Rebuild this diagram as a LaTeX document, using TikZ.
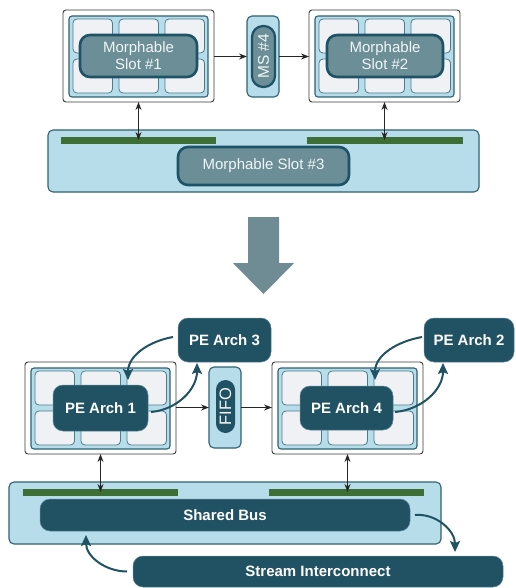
\documentclass[tikz,border=0pt]{standalone}
\usepackage{fontspec}
\setmainfont{Liberation Sans}
\usetikzlibrary{arrows.meta,calc}

\definecolor{panelblue}{HTML}{B8DDEA}
\definecolor{panelline}{HTML}{2E6272}
\definecolor{cellfill}{HTML}{EFF1F4}
\definecolor{cellline}{HTML}{4A7C8C}
\definecolor{framegray}{HTML}{3A3A3A}
\definecolor{slotgray}{HTML}{6B8E97}
\definecolor{slotline}{HTML}{1E5266}
\definecolor{petal}{HTML}{215264}
\definecolor{peedge}{HTML}{5E8794}
\definecolor{busgreen}{HTML}{3C6E35}
\definecolor{bigarrow}{HTML}{6F8C95}
\definecolor{lighttext}{HTML}{F2F6F7}

\tikzset{
  frame/.style={draw=framegray, fill=white, line width=0.9pt, rounded corners=3pt,
    inner sep=0pt, outer sep=0pt, minimum width=151pt, minimum height=92pt},
  panel/.style={draw=panelline, fill=panelblue, line width=1.1pt, rounded corners=3pt},
  cell/.style={draw=cellline, fill=cellfill, line width=0.8pt, rounded corners=4pt},
  bluebox/.style={draw=panelline, fill=panelblue, line width=1.1pt, rounded corners=5pt,
    inner sep=0pt, outer sep=0pt},
  slotnode/.style={draw=slotline, fill=slotgray, line width=2.6pt, rounded corners=10pt,
    text=lighttext, font=\fontsize{15}{17}\selectfont, align=center,
    inner sep=0pt, outer sep=0pt},
  pill/.style={draw=slotline, line width=2.2pt, rounded corners=10pt,
    inner sep=0pt, outer sep=0pt, text=lighttext},
  penode/.style={draw=peedge, fill=petal, line width=0.5pt, rounded corners=10pt,
    text=white, font=\bfseries\fontsize{15}{17}\selectfont,
    inner sep=0pt, outer sep=0pt},
  busbar/.style={fill=busgreen, draw=none, inner sep=0pt, outer sep=0pt, minimum height=7pt},
  arr/.style={-{Stealth[length=8pt,width=6pt]}, line width=1.2pt, draw=black!85},
  darr/.style={{Stealth[length=8pt,width=6pt]}-{Stealth[length=8pt,width=6pt]},
    line width=1.2pt, draw=black!85},
  carr/.style={-{Stealth[length=11pt,width=10pt,inset=2pt]}, line width=2pt, draw=petal},
}

% Framed slot: white frame, blue panel and a 3x2 grid of cells.
% #1 node name, #2/#3 top-left corner of the frame
\newcommand{\slotgrid}[3]{%
  \node[frame] (#1) at ({#2+75.5},{#3+46}) {};
  \draw[panel] ({#2+6},{#3+6}) rectangle ++(139,81);
  \foreach \ci in {0,1,2}
    \foreach \cj in {0,1}
      \draw[cell] ({#2+10+46*\ci},{#3+9+40*\cj}) rectangle ++(39.5,34);
}

\begin{document}
\begin{tikzpicture}[x=1pt,y=-1pt]
\useasboundingbox (0,0) rectangle (515,588);

% ---------------- upper configuration ----------------
\node[bluebox, minimum width=431pt, minimum height=62pt] (mempanel) at (263.5,161) {};
\node[busbar, minimum width=155pt] (barA) at (138.5,140.5) {};
\node[busbar, minimum width=156pt] (barB) at (385,140.5) {};
\node[slotnode, minimum width=171pt, minimum height=38pt] (slot3) at (263.5,166) {Morphable Slot \#3};

\slotgrid{frame1}{63}{10}
\slotgrid{frame2}{309}{10}
\node[slotnode, minimum width=117pt, minimum height=42pt] (slot1) at (138.5,56) {Morphable\\Slot \#1};
\node[slotnode, minimum width=116pt, minimum height=42pt] (slot2) at (385,56) {Morphable\\Slot \#2};

\node[bluebox, minimum width=32pt, minimum height=81pt] (msbox) at (263,56.5) {};
\node[pill, fill=slotgray, minimum width=23pt, minimum height=61pt, rounded corners=11pt] (ms4) at (263.5,56.5) {};
\node[text=lighttext, rotate=90, font=\fontsize{15.5}{17}\selectfont, inner sep=0pt] (ms4text) at (ms4) {MS \#4};

\draw[arr] (frame1.east |- msbox.west) -- (msbox.west);
\draw[arr] (msbox.east) -- (frame2.west |- msbox.east);
\draw[darr] (frame1.south) -- ([yshift=-3pt]frame1.south |- barA.north);
\draw[darr] (frame2.south) -- ([yshift=-3pt]frame2.south |- barB.north);

% ---------------- transformation arrow ----------------
\fill[bigarrow] (248,217) -- (279,217) -- (279,263) -- (294,263) -- (263.5,294)
  -- (233,263) -- (248,263) -- cycle;

% ---------------- lower configuration ----------------
\node[bluebox, minimum width=432pt, minimum height=62pt] (buspanel) at (225,513) {};
\node[busbar, minimum width=155pt] (barC) at (100.5,492.5) {};
\node[busbar, minimum width=155pt] (barD) at (346.5,492.5) {};
\node[penode, minimum width=370pt, minimum height=32pt] (shared) at (225,515) {Shared Bus};
\node[penode, minimum width=370pt, minimum height=31pt] (stream) at (318,571.5) {Stream Interconnect};

\slotgrid{frame3}{25}{362}
\slotgrid{frame4}{272}{362}
\node[penode, minimum width=95pt, minimum height=46pt] (pe1) at (100.5,408) {PE Arch 1};
\node[penode, minimum width=93pt, minimum height=44pt] (pe4) at (346.5,408) {PE Arch 4};
\node[penode, minimum width=93pt, minimum height=44pt] (pe3) at (224.5,340) {PE Arch 3};
\node[penode, minimum width=90pt, minimum height=44pt] (pe2) at (469,340) {PE Arch 2};

\node[bluebox, minimum width=32pt, minimum height=81pt] (fifobox) at (225,407.5) {};
\node[pill, draw=none, fill=petal, minimum width=19pt, minimum height=53pt, rounded corners=9.5pt] (fifo) at (225.5,406.5) {};
\node[text=lighttext, rotate=90, font=\fontsize{16.5}{18}\selectfont, inner sep=0pt] (fifotext) at (fifo) {FIFO};

\draw[arr] (frame3.east |- fifobox.west) -- (fifobox.west);
\draw[arr] (fifobox.east) -- (frame4.west |- fifobox.east);
\draw[darr] (frame3.south) -- ([yshift=-3pt]frame3.south |- barC.north);
\draw[darr] (frame4.south) -- ([yshift=-3pt]frame4.south |- barD.north);

% curved hand-offs between architectures
\draw[carr] ([xshift=-5pt,yshift=3pt]pe3.west) to[out=190,in=90] ([xshift=27.5pt,yshift=5pt]pe1.north);
\draw[carr] ([xshift=3pt,yshift=-4pt]pe1.east) to[out=5,in=-90] ([xshift=-27.5pt,yshift=-1pt]pe3.south);
\draw[carr] ([xshift=-2pt,yshift=3pt]pe2.west) to[out=190,in=90] ([xshift=28.5pt,yshift=6pt]pe4.north);
\draw[carr] ([xshift=2pt,yshift=-4pt]pe4.east) to[out=5,in=-90] ([xshift=-26pt,yshift=-1pt]pe2.south);

\draw[carr] ([xshift=5pt]shared.east) to[out=5,in=90] ([xshift=137pt,yshift=4pt]stream.north);
\draw[carr] ([xshift=-6pt]stream.west) to[out=180,in=-90] ([xshift=-139pt,yshift=-4pt]shared.south);
\end{tikzpicture}
\end{document}
